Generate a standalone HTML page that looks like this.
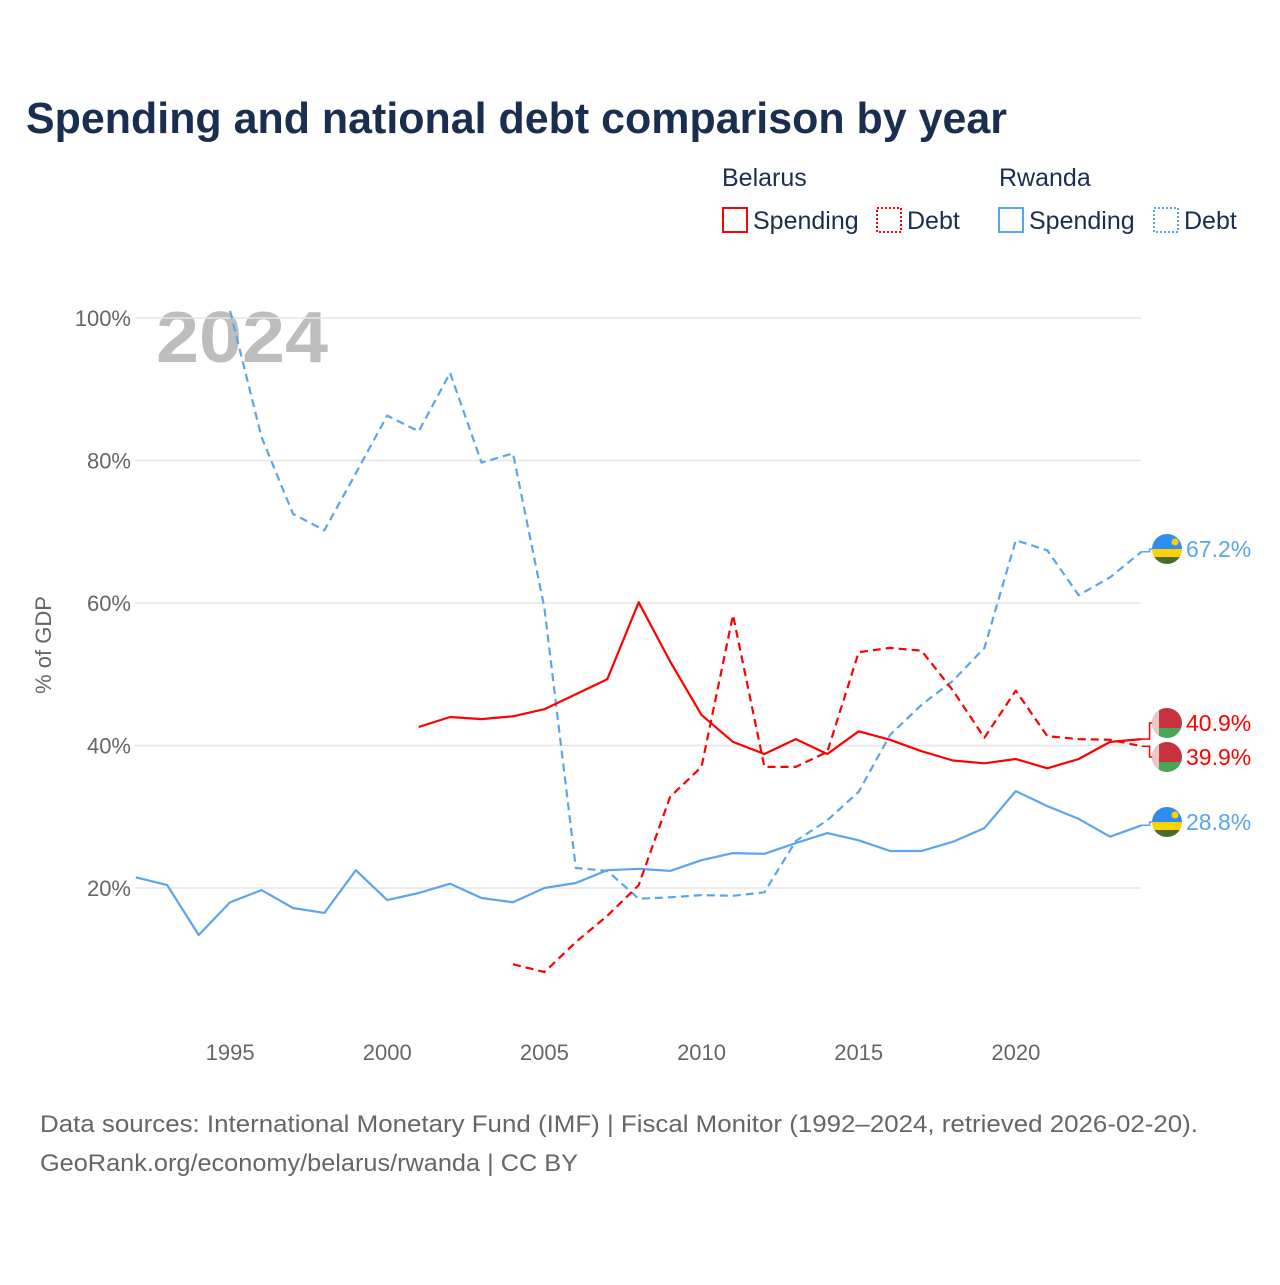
<!DOCTYPE html>
<html><head><meta charset="utf-8"><style>
body{margin:0;background:#fff;width:1280px;height:1280px;overflow:hidden;font-family:"Liberation Sans",sans-serif}
</style></head><body>
<svg id="chart" width="1280" height="1280" xmlns="http://www.w3.org/2000/svg" font-family="Liberation Sans, sans-serif">
<text x="26" y="133" font-size="44" font-weight="bold" fill="#1a2e4f" textLength="981" lengthAdjust="spacingAndGlyphs">Spending and national debt comparison by year</text>
<g font-size="25" fill="#1a2e4f">
<text x="722" y="186">Belarus</text>
<text x="999" y="186">Rwanda</text>
<g><rect x="723" y="208" width="24" height="24" fill="none" stroke="red" stroke-width="2"/><text x="753" y="229">Spending</text></g>
<g><rect x="877" y="208" width="24" height="24" fill="none" stroke="red" stroke-width="2" stroke-dasharray="2,2"/><text x="907" y="229">Debt</text></g>
<g><rect x="999" y="208" width="24" height="24" fill="none" stroke="#5aa5ec" stroke-width="2"/><text x="1029" y="229">Spending</text></g>
<g><rect x="1154" y="208" width="24" height="24" fill="none" stroke="#5aa5ec" stroke-width="2" stroke-dasharray="2,2"/><text x="1184" y="229">Debt</text></g>
</g>
<text x="156" y="362" font-size="72" font-weight="bold" fill="#bdbdbd" textLength="172" lengthAdjust="spacingAndGlyphs">2024</text>
<defs id="defs"></defs>
<g id="grid"></g><g id="series"></g><g id="labels"></g>
<text transform="translate(51,645) rotate(-90)" text-anchor="middle" font-size="22" fill="#666">% of GDP</text>
<text x="40" y="1132" font-size="24" fill="#666" textLength="1158" lengthAdjust="spacingAndGlyphs">Data sources: International Monetary Fund (IMF) | Fiscal Monitor (1992–2024, retrieved 2026-02-20).</text>
<text x="40" y="1171" font-size="24" fill="#666" textLength="538" lengthAdjust="spacingAndGlyphs">GeoRank.org/economy/belarus/rwanda | CC BY</text>
</svg>
<script>
const years=[];for(let y=1992;y<=2024;y++)years.push(y);
const yTicks=[20,40,60,80,100];
const xTicks=[1995,2000,2005,2010,2015,2020];
const rwSpending=[21.5,20.4,13.4,18.0,19.7,17.2,16.5,22.5,18.3,19.3,20.6,18.6,18.0,20.0,20.7,22.5,22.7,22.4,23.9,24.9,24.8,26.3,27.7,26.7,25.2,25.2,26.5,28.4,33.6,31.5,29.7,27.2,28.8];
const rwDebt=[null,null,null,101,83.3,72.5,70.2,78.2,86.3,84.1,92.3,79.7,81.0,59.3,22.8,22.4,18.5,18.7,19.0,18.9,19.4,26.6,29.5,33.5,41.5,45.7,49.1,53.7,68.8,67.4,61.1,63.6,67.2];
const byStartSp=2001, bySpending=[42.6,44.0,43.7,44.1,45.1,47.2,49.3,60.1,51.8,44.3,40.5,38.8,40.9,38.8,42.0,40.8,39.2,37.9,37.5,38.1,36.8,38.1,40.5,40.9];
const byStartDebt=2004, byDebt=[9.3,8.2,12.4,16.1,20.4,32.8,37.0,58.3,37.0,37.0,39.1,53.1,53.7,53.3,47.7,41.1,47.7,41.3,40.9,40.8,39.9];
const X=y=>135.8+(y-1992)*31.43, Y=v=>1030.5-v*7.125;
const NS="http://www.w3.org/2000/svg";
function mk(t,a,p){const e=document.createElementNS(NS,t);for(const k in a)e.setAttribute(k,a[k]);p.appendChild(e);return e;}
const grid=document.getElementById('grid'),ser=document.getElementById('series'),lab=document.getElementById('labels'),defs=document.getElementById('defs');
yTicks.forEach(v=>{const l=mk('line',{x1:135,x2:1141,y1:Y(v),y2:Y(v),stroke:'#e6e6e6','stroke-width':1.5},grid);


const t=mk('text',{x:131,y:Y(v)+8,'text-anchor':'end','font-size':22,fill:'#666'},grid);t.textContent=v+'%';

});
xTicks.forEach(v=>{const t=mk('text',{x:X(v),y:1060,'text-anchor':'middle','font-size':22,fill:'#666'},grid);t.textContent=v;

});
function line(vals,start,color,dash,name){const pts=[];vals.forEach((v,i)=>{if(v!=null)pts.push(X(start+i).toFixed(1)+','+Y(v).toFixed(1));});
const p=mk('polyline',{points:pts.join(' '),fill:'none',stroke:color,'stroke-width':2.2,'stroke-dasharray':dash||'none','stroke-linejoin':'round'},ser);

}
line(rwSpending,1992,'#5aa5ec',null,'rwanda-spending-line');
line(rwDebt,1992,'#5aa5ec','8,5','rwanda-debt-line');
line(bySpending,byStartSp,'red',null,'belarus-spending-line');
line(byDebt,byStartDebt,'red','8,5','belarus-debt-line');
let cid=0;
function endLabel(v,ly,color,flag,name){const g=mk('g',{},lab);


const x0=X(2024);mk('polyline',{points:`${x0},${Y(v)} ${x0+8},${Y(v)} ${x0+8},${ly} ${x0+11},${ly}`,fill:'none',stroke:color,'stroke-width':1.5},g);
const cx=1167;const id='fc'+(cid++);
const cp=mk('clipPath',{id:id},defs);mk('circle',{cx:cx,cy:ly,r:15},cp);
const f=mk('g',{'clip-path':`url(#${id})`},g);
if(flag==='rw'){mk('rect',{x:cx-15,y:ly-15,width:30,height:15,fill:'#2f8cf0'},f);mk('rect',{x:cx-15,y:ly,width:30,height:8,fill:'#fad201'},f);mk('rect',{x:cx-15,y:ly+8,width:30,height:8,fill:'#4b6b2a'},f);mk('circle',{cx:cx+8,cy:ly-7,r:3.5,fill:'#fad201'},f);}
else{mk('rect',{x:cx-15,y:ly-15,width:30,height:20,fill:'#c8313e'},f);mk('rect',{x:cx-15,y:ly+5,width:30,height:11,fill:'#4aa657'},f);mk('rect',{x:cx-15,y:ly-15,width:7,height:30,fill:'#e8c8c8'},f);}
const t=mk('text',{x:1186,y:ly+8,'font-size':23,fill:color},g);t.textContent=v.toFixed(1)+'%';}
endLabel(rwDebt[32],549,'#5aa5ec','rw','label-rwanda-debt');
endLabel(bySpending[23],723,'red','by','label-belarus-spending');
endLabel(byDebt[20],757,'red','by','label-belarus-debt');
endLabel(rwSpending[32],822,'#5aa5ec','rw','label-rwanda-spending');
</script>
</body></html>
